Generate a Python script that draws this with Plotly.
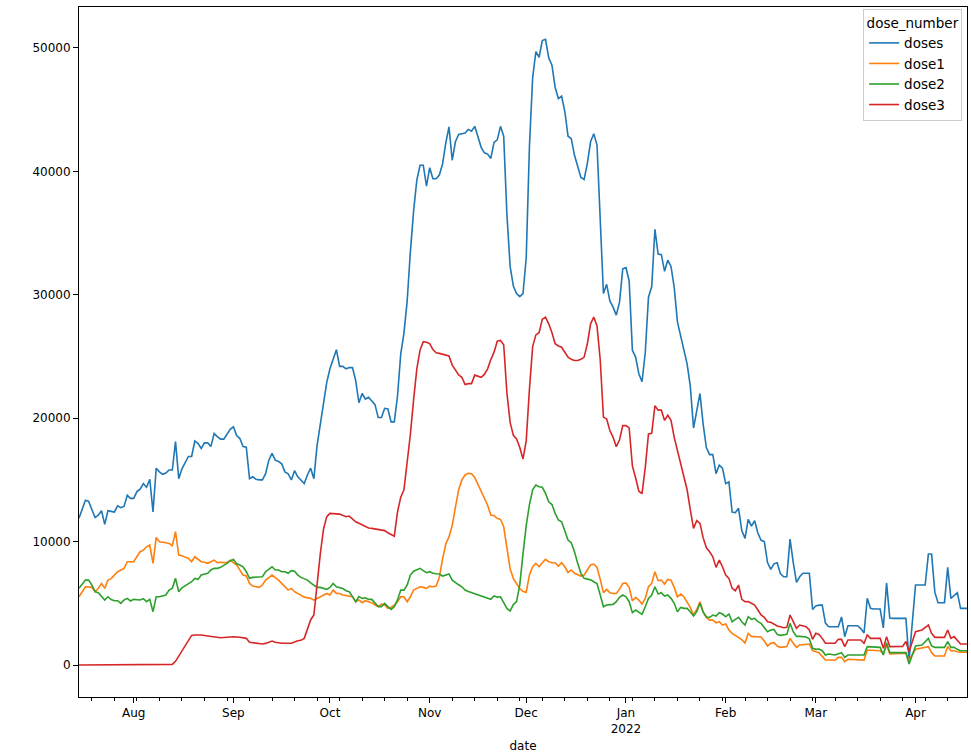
import pandas as pd
import plotly.graph_objects as go

START = "2021-07-15"

# day offsets from START and values
doses_days = [0,2,3,4,5,6,7,8,9,10,11,12,13,14,15,16,17,18,19,20,21,22,23,24,25,26,27,28,29,30,
              31,32,33,34,35,36,37,38,39,40,41,42,43,44,45,46,47,48,49,50,51,52,53,54,55,56,57,58,59,60,
              61,62,63,64,65,66,67,68,69,70,71,72,73,74,75,76,77,78,79,80,81,82,83,84,85,86,87,88,89,90,
              91,92,93,94,95,96,97,98,99,100,101,102,103,104,105,106,107,108,109,110,111,112,113,114,115,116,117,118,119,120,
              121,122,123,124,125,126,127,128,129,130,131,132,133,134,135,136,137,138,139,140,141,142,143,144,145,146,147,148,149,150,
              151,152,153,154,155,156,157,158,159,160,161,162,163,164,165,166,167,168,169,170,171,172,173,174,175,176,177,178,179,180,
              181,182,183,184,185,186,187,188,189,190,191,192,193,194,195,196,197,198,199,200,201,202,203,204,205,206,207,208,209,210,
              211,212,213,214,215,216,217,218,219,220,221,222,223,224,225,226,227,228,229,230,231,232,233,234,235,236,237,238,239,240,
              241,242,243,244,245,246,247,248,249,250,251,252,253,257,258,260,263,264,265,266,267,269,270,271,272,273,274,276]
doses_vals = [11900,13350,13250,12600,11950,12150,12500,11400,12500,12450,12400,12900,12750,12850,13750,13500,13500,14050,14250,14700,14400,15050,12400,15950,15650,15450,15550,15800,15800,18100,
              15100,15900,16450,16900,16900,18150,17950,17550,18000,18000,17700,18750,18500,18300,18300,18700,19100,19300,18600,18350,17700,17650,15100,15250,15050,15000,15000,15500,16600,17150,
              16600,16500,16300,15650,15500,15000,15750,15250,15000,14700,15400,15950,15100,17800,19500,21300,22900,24000,24700,25550,24200,24200,24000,24100,24100,23050,21250,22000,21550,21700,
              21400,21100,20050,20050,20800,20750,19700,19700,21800,25200,26900,29500,33500,36800,39300,40500,40500,38800,40300,39400,39400,39700,40600,42300,43600,40900,42400,43000,43050,43100,
              43400,43250,43650,42800,41950,41500,41400,41050,42350,42550,43650,42850,36500,32300,30700,30100,29850,30100,33000,42000,47600,49700,49250,50600,50700,49200,48600,46800,45900,46100,
              44850,42850,42650,41300,40300,39500,39350,40650,42400,43050,42150,36000,30100,30850,29500,29000,28350,29400,32100,32200,31100,25500,24950,23600,22950,25300,29800,30650,35300,33300,
              33250,31900,32800,32300,30600,27800,26700,25600,24400,22600,19200,20600,22000,19500,17600,17050,17050,15500,16200,15950,14700,14850,12400,12340,12700,10900,10260,11800,11250,11690,
              10700,10100,10000,8300,7750,8200,8290,7400,7150,7150,10200,8300,6700,7150,7430,7430,7430,4500,4780,4850,4860,3400,3100,3100,3100,3100,3890,2290,3180,3180,
              3180,3180,2950,2590,5400,4600,4540,4540,4540,3000,6650,3800,3780,3780,400,6480,6480,8990,8990,5900,5050,5050,7910,5400,5600,5860,4590,4590]

dose1_days = [0,2,4,5,6,7,8,9,10,12,14,15,17,18,19,20,21,22,23,24,25,27,28,29,30,31,32,34,35,36,
              37,38,39,40,42,43,44,46,47,49,50,51,52,53,54,56,57,58,60,61,62,63,64,65,66,67,68,69,70,71,
              72,73,74,75,76,77,78,79,80,81,82,84,85,86,87,88,89,90,91,92,93,94,95,96,97,98,99,100,101,102,
              103,104,105,106,107,108,109,110,111,112,113,114,115,116,117,118,119,120,121,122,123,124,125,126,127,128,129,130,131,132,
              133,134,135,136,137,138,139,140,141,142,143,144,145,146,147,148,149,150,151,152,153,154,155,156,157,158,159,160,161,162,
              163,164,165,166,167,168,169,170,171,172,173,174,175,176,177,178,179,180,181,182,183,184,185,186,187,188,189,190,191,192,
              193,194,195,196,197,198,199,200,201,202,203,204,205,206,207,208,209,210,211,212,213,214,215,216,217,218,220,221,222,223,
              224,226,227,228,229,230,231,232,233,235,236,237,238,239,244,245,249,250,251,252,257,258,260,262,264,265,266,269,270,271,
              272,273,274,276]
dose1_vals = [5530,6340,6290,5940,6210,6610,6210,6880,7000,7560,7830,8370,8370,8770,9180,9310,9580,9720,8240,10340,9990,9910,9850,9670,10800,8910,8860,8640,8370,8770,
              8560,8370,8320,8240,8500,8290,8320,8290,8480,8100,7690,7290,7210,6610,6400,6290,6480,6880,7290,7100,6880,6610,6340,6070,6210,5940,5800,5670,5500,5450,
              5400,5260,5400,5530,5670,5800,5670,6070,5800,5800,5670,5590,5540,5130,5270,5050,5210,5130,5050,4860,4730,4940,4860,4590,4670,4860,5130,5530,5530,5130,
              5530,6070,6200,6340,6290,6210,6390,6340,6390,7100,8600,9800,10400,11300,12800,14200,15000,15400,15530,15500,15200,14650,14100,13500,12950,12150,12100,11880,11800,11200,
              9600,7800,7000,6600,6200,5950,5900,7300,7960,8240,7960,8290,8560,8370,8290,8290,8020,8290,7960,7500,7700,7430,7290,7210,7290,7700,8100,8180,7900,6950,
              5860,6130,5860,5800,5800,6150,6600,6650,6300,5210,5480,5260,4940,5400,6340,6610,7560,6830,6880,6560,6940,6880,6290,5530,5750,5530,5130,4670,4050,4500,
              5130,4300,3850,3640,3640,3420,3510,3240,3320,2840,2560,2400,2250,2050,1780,2560,2320,2320,2320,2270,1940,1540,1760,1810,1540,1430,1490,2160,1760,1430,
              1620,1700,1700,1160,1080,1000,700,400,400,380,620,620,270,460,400,1215,1160,890,1620,890,950,400,1270,1350,1490,1000,730,730,1490,1160,
              1160,1080,1030,1030]

dose2_days = [0,2,3,4,5,6,8,9,10,11,12,13,14,15,16,17,19,20,21,22,23,24,25,26,27,28,29,30,31,32,
              34,35,36,37,38,40,41,42,43,44,46,47,48,49,50,51,52,53,54,56,57,58,60,61,62,63,64,65,66,67,
              68,69,70,71,72,73,74,75,77,78,79,80,81,82,83,84,85,86,87,88,89,90,91,92,93,94,95,96,97,98,
              99,100,101,102,103,104,105,106,107,108,109,110,111,112,113,114,115,116,117,118,119,120,121,122,123,124,125,126,127,128,
              129,130,131,132,133,134,135,136,137,138,139,140,141,142,143,144,145,146,147,148,149,150,151,152,153,154,155,156,157,158,
              159,160,161,162,163,164,165,166,167,168,169,170,171,172,173,174,175,176,177,178,179,180,181,182,183,184,185,186,187,188,
              189,190,191,192,193,194,195,196,197,198,199,200,201,202,203,204,205,206,207,208,209,210,211,212,213,214,215,216,217,218,
              220,221,222,223,224,226,227,228,229,230,231,232,233,235,237,238,239,244,245,249,250,251,252,257,258,260,262,264,265,266,
              269,270,271,272,273,274,276]
dose2_vals = [6210,6880,6880,6480,5940,5860,5270,5530,5300,5210,5210,5000,5270,5400,5190,5320,5270,5380,5130,5320,4320,5530,5530,5600,5670,6070,6210,7020,5940,6260,
              6610,6750,7020,6940,7290,7430,7700,7830,7830,7910,8240,8450,8560,8200,8100,7960,7560,7020,7100,7100,7150,7560,7960,7700,7700,7560,7560,7430,7650,7600,
              7290,7100,7020,6880,6650,6480,6290,6290,6130,6290,6610,6340,6290,6200,6020,5940,5540,5130,5540,5400,5450,5320,5320,4990,4730,4730,4990,4730,4510,4730,
              5270,6070,6070,6480,7290,7600,7700,7830,7650,7480,7560,7430,7400,7380,7210,7300,7380,6880,6670,6500,6340,6070,5950,5860,5750,5700,5590,5540,5450,5320,
              5600,5500,5530,5000,4590,4370,4900,5130,6500,9000,11300,13000,14200,14580,14450,14400,13910,13230,13000,12290,11750,11610,10940,10130,9910,9180,8240,7430,7020,6950,
              6900,6750,6610,5670,4720,4860,4860,4910,5130,5480,5670,5530,5130,4240,4450,4240,4100,4720,5400,5670,6340,5750,5860,5590,5670,5400,5000,4320,4670,4590,
              4590,4320,3970,4320,5000,4280,3890,3860,4050,3970,4240,4130,3910,4130,3510,3700,3860,3510,3240,3910,3700,3780,3510,3370,3020,2700,2840,2890,2480,2400,
              2480,3370,2700,2320,2320,2270,2130,1350,1270,1300,1160,810,890,810,1000,620,810,810,1490,1430,810,1810,1000,1000,80,1540,1620,2160,1540,1430,
              1430,1900,1430,1430,1270,1160,1160]

dose3_days = [0,28,29,30,31,32,33,34,35,36,38,40,42,44,46,48,50,51,52,53,55,57,58,60,61,63,65,66,68,69,
              70,71,72,73,74,75,76,77,78,79,80,81,82,83,84,85,86,87,88,89,90,91,92,93,94,95,96,97,98,99,
              100,101,102,103,104,105,106,107,108,109,110,111,112,113,114,115,116,117,118,119,120,121,122,123,124,125,126,127,128,129,
              130,131,132,133,134,135,136,137,138,139,140,141,142,143,144,145,146,147,148,149,150,151,152,153,154,155,156,157,158,159,
              160,161,162,163,164,165,166,167,168,169,170,171,172,173,174,175,176,177,178,179,180,181,182,183,184,185,186,187,188,189,
              190,191,192,193,194,195,196,197,198,199,200,201,202,203,204,205,206,207,208,209,210,211,212,213,214,215,216,217,218,219,
              220,221,222,223,224,225,226,227,228,229,230,231,232,235,236,237,238,239,243,244,245,246,249,250,251,252,256,257,258,260,
              262,264,265,266,269,270,271,272,273,274,276]
dose3_vals = [0,0,50,300,700,1100,1600,2000,2400,2430,2430,2350,2250,2210,2250,2290,2250,2200,2160,1840,1780,1700,1750,1940,1850,1760,1760,1760,1970,2000,
              2160,2970,3650,4050,6610,9000,11000,12020,12290,12300,12250,12230,12100,12020,12070,11800,11600,11480,11350,11260,11100,11070,11020,10940,10900,10890,10720,10600,10440,12400,
              13600,14200,16300,18700,21500,24000,25500,26200,26150,26050,25560,25300,25250,25200,25100,25050,24300,23850,23500,23310,22720,22800,22800,23490,23400,23310,23550,24000,24750,25350,
              26240,26300,25950,22050,19660,18610,18310,17630,16700,18160,22350,25800,26750,26930,28010,28190,27650,26930,26030,25850,25750,25310,24950,24770,24670,24670,24770,24950,26030,27650,
              28190,27470,24740,20090,19930,19000,18450,17690,18230,19410,19400,19210,16130,15170,14080,13880,15990,18730,18770,21000,20650,20650,19820,20230,19820,18450,17360,16400,15300,14200,
              12600,11070,11700,11480,10300,9500,9180,8770,7910,8500,7960,7290,7020,6210,6020,6480,5320,5130,5150,4990,4860,4460,4050,3860,3510,3460,3320,3160,3100,3020,
              3050,4050,3510,2970,3240,3160,3100,2835,2080,2570,2480,2160,1760,1760,2080,2080,1490,2030,2030,1760,2430,2160,2160,1350,2300,1490,1500,1900,1080,2700,
              2840,3240,2570,2240,2240,2840,2160,2300,2030,1700,1700]

series_names = ["doses", "dose1", "dose2", "dose3"]
series_colors = ["#1f77b4", "#ff7f0e", "#2ca02c", "#d62728"]

month_ticks = ["2021-08-01", "2021-09-01", "2021-10-01", "2021-11-01", "2021-12-01",
               "2022-01-01", "2022-02-01", "2022-03-01", "2022-04-01"]
month_labels = ["Aug", "Sep", "Oct", "Nov", "Dec", "Jan<br>2022", "Feb", "Mar", "Apr"]
y_ticks = [0, 10000, 20000, 30000, 40000, 50000]

start = pd.Timestamp(START)
def to_dates(days):
    return start + pd.to_timedelta(days, unit="D")

all_days = [doses_days, dose1_days, dose2_days, dose3_days]
all_vals = [doses_vals, dose1_vals, dose2_vals, dose3_vals]

fig = go.Figure()
for name, color, d, v in zip(series_names, series_colors, all_days, all_vals):
    fig.add_trace(go.Scatter(x=to_dates(d), y=v, mode="lines", name=name,
                             line=dict(color=color, width=1.6)))

font = dict(family="DejaVu Sans", size=12, color="#000000")
lfont = dict(family="DejaVu Sans", size=13.5, color="#000000")
fig.update_layout(
    width=971, height=755,
    margin=dict(l=79, r=4, t=7, b=58),
    paper_bgcolor="white", plot_bgcolor="white",
    font=font,
    showlegend=True,
    legend=dict(
        title=dict(text="dose_number", side="top center", font=lfont),
        x=0.9945, xanchor="right", y=0.997, yanchor="top",
        bgcolor="rgba(255,255,255,0.8)", bordercolor="#cccccc", borderwidth=1,
        font=lfont, itemwidth=30, tracegroupgap=2,
    ),
)
fig.update_xaxes(
    type="date",
    range=[to_dates([0])[0], to_dates([276])[0]],
    tickmode="array", tickvals=month_ticks, ticktext=month_labels,
    ticks="outside", ticklen=5, tickwidth=1, tickcolor="black",
    showline=True, linecolor="black", linewidth=1, mirror=True,
    showgrid=False, zeroline=False,
    minor=dict(ticks="outside", ticklen=3, tickwidth=1, tickcolor="black",
               tick0="2021-07-19", dtick=7 * 24 * 3600 * 1000, showgrid=False),
    title=dict(text="date", font=font, standoff=6),
    tickfont=font,
)
fig.update_yaxes(
    range=[-2593, 53320],
    tickmode="array", tickvals=y_ticks, ticktext=[str(t) for t in y_ticks],
    ticks="outside", ticklen=5, tickwidth=1, tickcolor="black",
    showline=True, linecolor="black", linewidth=1, mirror=True,
    showgrid=False, zeroline=False,
    tickfont=font,
)

fig.write_html("out.html")
